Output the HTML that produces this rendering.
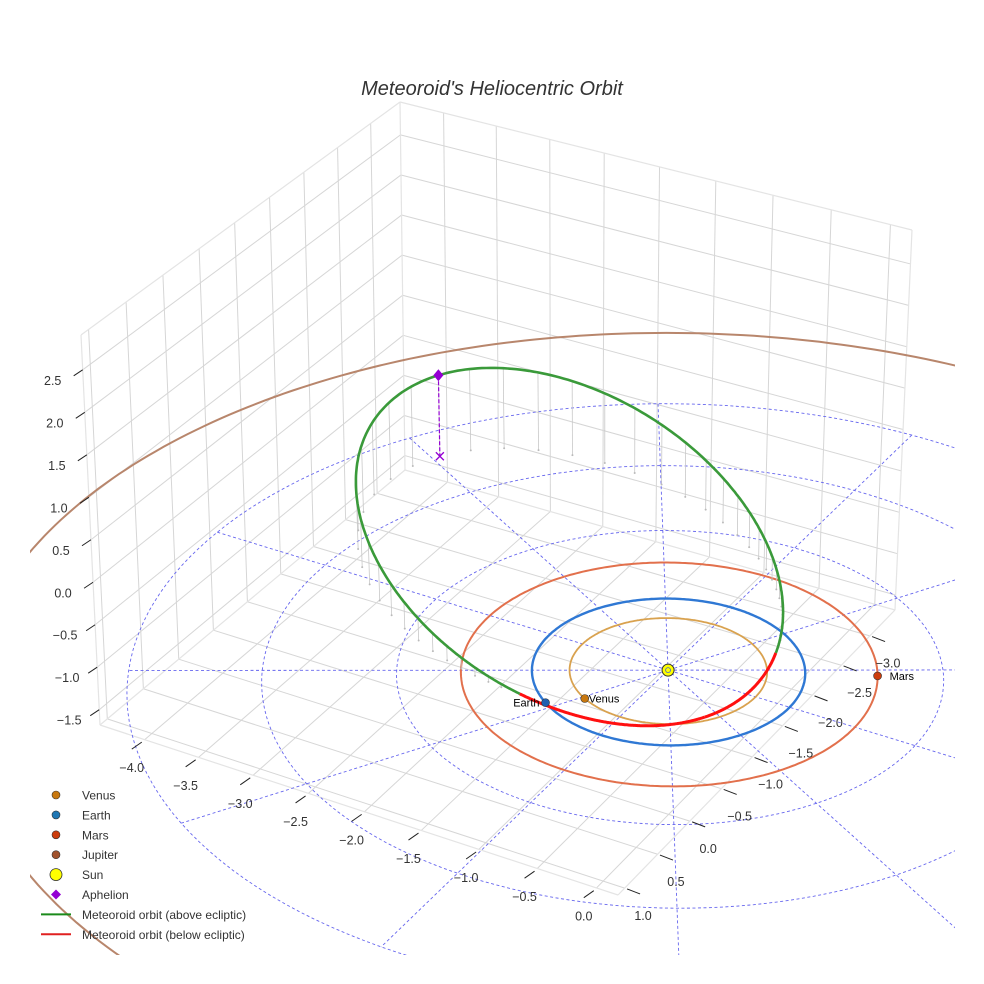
<!DOCTYPE html>
<html><head><meta charset="utf-8"><style>
html,body{margin:0;padding:0;background:#fff;overflow:hidden;width:984px;height:984px}
svg{display:block;font-family:"Liberation Sans",sans-serif}
</style></head><body>
<svg id="chart" width="984" height="984" viewBox="0 0 984 984" xmlns="http://www.w3.org/2000/svg">
<rect width="984" height="984" fill="#fff"/>
<text x="492" y="95" text-anchor="middle" font-size="20" font-style="italic" fill="#333">Meteoroid's Heliocentric Orbit</text>
<defs><clipPath id="clip"><rect x="30" y="0" width="925" height="955"/></clipPath></defs>
<g id="panes"></g>
<g id="plot" clip-path="url(#clip)"></g>
<g id="ticks"></g>
<g id="legend" font-size="12" fill="#333"></g>
</svg>
<script>
// ---- data ----
const xTicks = [-4.0,-3.5,-3.0,-2.5,-2.0,-1.5,-1.0,-0.5,0.0];
const yTicks = [-3.0,-2.5,-2.0,-1.5,-1.0,-0.5,0.0,0.5,1.0];
const zTicks = [-1.5,-1.0,-0.5,0.0,0.5,1.0,1.5,2.0,2.5];
const planetNames = ["Venus","Earth","Mars","Jupiter"];
const planetRadii = [0.723,1.0,1.524,5.203];
const planetAngles = [118,124,-27,200];
const planetShown = [true,true,true,false];
// meteoroid orbital elements
const perihelionDist = 0.55;
const aphelionDist = 3.75;
const nodeLongitude = 133;   // deg
const inclination = 15.5;    // deg
const argPerihelion = 258.5; // deg
const gridRadii = [1,2,3,4];
const gridAngles = [0,30,60,90,120,150];

// ---- projection ----
const xmin=-4.42,xmax=0.18,ymin=-3.45,ymax=1.1,zmin=-1.68,zmax=2.91;
function homog(q){
  const [x0,y0]=q[0],[x1,y1]=q[1],[x2,y2]=q[2],[x3,y3]=q[3];
  const dx1=x1-x2,dx2=x3-x2,dx3=x0-x1+x2-x3,dy1=y1-y2,dy2=y3-y2,dy3=y0-y1+y2-y3;
  const den=dx1*dy2-dx2*dy1;
  const g=(dx3*dy2-dx2*dy3)/den,h=(dx1*dy3-dx3*dy1)/den;
  const a=x1-x0+g*x1,b=x3-x0+h*x3,c=x0,d=y1-y0+g*y1,e=y3-y0+h*y3,f=y0;
  return (u,v)=>{const w=g*u+h*v+1;return [(a*u+b*v+c)/w,(d*u+e*v+f)/w];};
}
const floorC=[[405,470],[895,610],[618,895],[100,725]];
const topC=[[400,102],[912,230],[612,495],[81,335]];
const Hf=homog(floorC), Ht=homog(topC);
function P(x,y,z){
  const u=(x-xmin)/(xmax-xmin), v=(y-ymin)/(ymax-ymin), t=(z-zmin)/(zmax-zmin);
  const a=Hf(u,v), b=Ht(u,v);
  return [a[0]+(b[0]-a[0])*t, a[1]+(b[1]-a[1])*t];
}
const NS="http://www.w3.org/2000/svg";
function el(tag,attrs,parent){const e=document.createElementNS(NS,tag);for(const k in attrs)e.setAttribute(k,attrs[k]);parent.appendChild(e);return e;}
function pts(arr){return arr.map(p=>p[0].toFixed(1)+","+p[1].toFixed(1)).join(" ");}

// ---- panes & grid ----
const panes=document.getElementById('panes');
function line3(a,b,parent,stroke,w){const p=P(...a),q=P(...b);return el('line',{x1:p[0],y1:p[1],x2:q[0],y2:q[1],stroke:stroke,'stroke-width':w},parent);}
for(const x of xTicks){const l=line3([x,ymin,zmin],[x,ymax,zmin],panes,'#d6d6d6',1);

}
for(const y of yTicks){const l=line3([xmin,y,zmin],[xmax,y,zmin],panes,'#d6d6d6',1);

}
for(const y of yTicks){const l=line3([xmin,y,zmin],[xmin,y,zmax],panes,'#d6d6d6',1);

}
for(const z of zTicks){const l=line3([xmin,ymin,z],[xmin,ymax,z],panes,'#d6d6d6',1);

}
for(const x of xTicks){const l=line3([x,ymin,zmin],[x,ymin,zmax],panes,'#d6d6d6',1);

}
for(const z of zTicks){const l=line3([xmin,ymin,z],[xmax,ymin,z],panes,'#d6d6d6',1);

}
[[[xmin,ymax,zmin],[xmax,ymax,zmin]],[[xmax,ymax,zmin],[xmax,ymin,zmin]],[[xmin,ymin,zmin],[xmin,ymax,zmin]],[[xmin,ymin,zmin],[xmax,ymin,zmin]],
 [[xmin,ymax,zmin],[xmin,ymax,zmax]],[[xmin,ymin,zmin],[xmin,ymin,zmax]],[[xmax,ymin,zmin],[xmax,ymin,zmax]],
 [[xmin,ymax,zmax],[xmin,ymin,zmax]],[[xmin,ymin,zmax],[xmax,ymin,zmax]]].forEach(e=>{
 const l=line3(e[0],e[1],panes,'#e4e4e4',1.2);
 
 });

// ---- plot ----
const plot=document.getElementById('plot');
for(const r of gridRadii){const a=[];for(let i=0;i<=180;i++){const t=i/180*2*Math.PI;a.push(P(r*Math.cos(t),r*Math.sin(t),0));}
 const c=el('polyline',{points:pts(a),fill:'none',stroke:'#6666ee','stroke-width':0.9,'stroke-dasharray':'3,2.5'},plot);
 
 }
const rMax=Math.max(...gridRadii);
for(const ang of gridAngles){const t=ang*Math.PI/180;const p=P(-rMax*Math.cos(t),-rMax*Math.sin(t),0),q=P(rMax*Math.cos(t),rMax*Math.sin(t),0);
 const l=el('line',{x1:p[0],y1:p[1],x2:q[0],y2:q[1],stroke:'#6666ee','stroke-width':0.9,'stroke-dasharray':'3,2.5'},plot);
 
 }

const orbitColors=['#d9a24f','#2f78d4','#e2704c','#b8866c'];
const orbitWidths=[1.8,2.4,2,2];
planetRadii.forEach((r,k)=>{const a=[];for(let i=0;i<=360;i++){const t=i/360*2*Math.PI;a.push(P(r*Math.cos(t),r*Math.sin(t),0));}
 const o=el('polyline',{points:pts(a),fill:'none',stroke:orbitColors[k],'stroke-width':orbitWidths[k]},plot);
 
 });

// meteoroid orbit from elements
const D=Math.PI/180;
const aAx=(perihelionDist+aphelionDist)/2, ecc=(aphelionDist-perihelionDist)/(aphelionDist+perihelionDist), pLat=aAx*(1-ecc*ecc);
const Om=nodeLongitude*D, inc=inclination*D, w=argPerihelion*D;
function orbPos(nu){const r=pLat/(1+ecc*Math.cos(nu));const u=w+nu;
 return [r*(Math.cos(Om)*Math.cos(u)-Math.sin(Om)*Math.sin(u)*Math.cos(inc)),
         r*(Math.sin(Om)*Math.cos(u)+Math.cos(Om)*Math.sin(u)*Math.cos(inc)),
         r*Math.sin(u)*Math.sin(inc)];}
const orb=[];
for(let i=0;i<=720;i++){orb.push(orbPos(i/720*2*Math.PI));}
for(let i=0;i<orb.length;i+=8){const p=orb[i];if(p[2]>0.02){const a=P(p[0],p[1],p[2]),b=P(p[0],p[1],0);
 const l=el('line',{x1:a[0],y1:a[1],x2:b[0],y2:b[1],stroke:'#c8c8c8','stroke-width':0.8},plot);
 
 
 const d=el('circle',{cx:b[0],cy:b[1],r:1,fill:'#bbb'},plot);
 
 }}
let seg=[],above=null;
function flush(){if(seg.length>1){const s=el('polyline',{points:pts(seg),fill:'none',stroke:above?'#3a9a3a':'#ff1010','stroke-width':above?2.6:3,'stroke-linejoin':'round'},plot);
 
 }}
for(const p of orb){const ab=p[2]>=0;const sp=P(...p);if(above===null)above=ab;
 if(ab!==above){seg.push(sp);flush();seg=[sp];above=ab;}else seg.push(sp);}
flush();

const aph=orbPos(Math.PI);
const ap=P(...aph), apf=P(aph[0],aph[1],0);
const dl=el('line',{x1:ap[0],y1:ap[1],x2:apf[0],y2:apf[1],stroke:'#9400d3','stroke-width':1.2,'stroke-dasharray':'4,2'},plot);


const dia=el('polygon',{points:pts([[ap[0],ap[1]-6],[ap[0]+5,ap[1]],[ap[0],ap[1]+6],[ap[0]-5,ap[1]]]),fill:'#9400d3'},plot);


const xm=el('path',{d:`M${apf[0]-4},${apf[1]-4}L${apf[0]+4},${apf[1]+4}M${apf[0]+4},${apf[1]-4}L${apf[0]-4},${apf[1]+4}`,stroke:'#9400d3','stroke-width':1.3,fill:'none'},plot);



const planetColors=['#c8780f','#1f5fb0','#cc3d0d','#a0522d'];
const labelDx=[4,-6,12,4], labelAnchor=['start','end','start','start'];
planetNames.forEach((n,k)=>{if(!planetShown[k])return;const t=planetAngles[k]*D;const r=planetRadii[k];
 const p=P(r*Math.cos(t),r*Math.sin(t),0);
 const c=el('circle',{cx:p[0],cy:p[1],r:4,fill:planetColors[k],stroke:'#333','stroke-width':0.6},plot);
 
 
 const tx=el('text',{x:p[0]+labelDx[k],y:p[1]+4,'font-size':11,fill:'#000','text-anchor':labelAnchor[k]},plot);tx.textContent=n;
 
 });
const s0=P(0,0,0);
const sun=el('circle',{cx:s0[0],cy:s0[1],r:6,fill:'#ffff00',stroke:'#333','stroke-width':1},plot);


const sc=el('circle',{cx:s0[0],cy:s0[1],r:2.5,fill:'none',stroke:'#4466cc','stroke-width':0.8},plot);



// ---- ticks ----
const tk=document.getElementById('ticks');
function tick(p,d,lx,ly,txt,name){
 const l=el('line',{x1:p[0],y1:p[1],x2:p[0]+d[0],y2:p[1]+d[1],stroke:'#222','stroke-width':1},tk);
 
 
 const t=el('text',{x:p[0]+lx,y:p[1]+ly,'font-size':12.5,fill:'#333','text-anchor':'middle'},tk);
 t.textContent=txt.replace('-','\u2212');
 
 }
for(const x of xTicks){const p=P(x,ymax+0.04,zmin);tick(p,[-10,7],-10,30,x.toFixed(1),'x-axis');}
for(const y of yTicks){const p=P(xmax+0.02,y,zmin);tick(p,[13,5],16,31,y.toFixed(1),'y-axis');}
for(const z of zTicks){const p=P(xmin,ymax,z);tick(p,[-9,6],-30,15,z.toFixed(1),'z-axis');}

// ---- legend ----
const lg=document.getElementById('legend');
const legItems=[['Venus','dot','#c8780f'],['Earth','dot','#1f77b4'],['Mars','dot','#cc3d0d'],['Jupiter','dot','#a0522d'],['Sun','sun','#ffff00'],['Aphelion','dia','#9400d3'],['Meteoroid orbit (above ecliptic)','line','#1a8a1a'],['Meteoroid orbit (below ecliptic)','line','#e02020']];
legItems.forEach((it,i)=>{const y=795+i*19.9;
 const g=el('g',{},lg);
 
 
 if(it[1]==='dot')el('circle',{cx:56,cy:y,r:4,fill:it[2],stroke:'#333','stroke-width':0.6},g);
 else if(it[1]==='sun')el('circle',{cx:56,cy:y,r:6,fill:it[2],stroke:'#333','stroke-width':0.8},g);
 else if(it[1]==='dia')el('polygon',{points:`56,${y-5} 61,${y} 56,${y+5} 51,${y}`,fill:it[2]},g);
 else el('line',{x1:41,y1:y,x2:71,y2:y,stroke:it[2],'stroke-width':2},g);
 const t=el('text',{x:82,y:y+4.5},g);t.textContent=it[0];});
</script>
</body></html>
